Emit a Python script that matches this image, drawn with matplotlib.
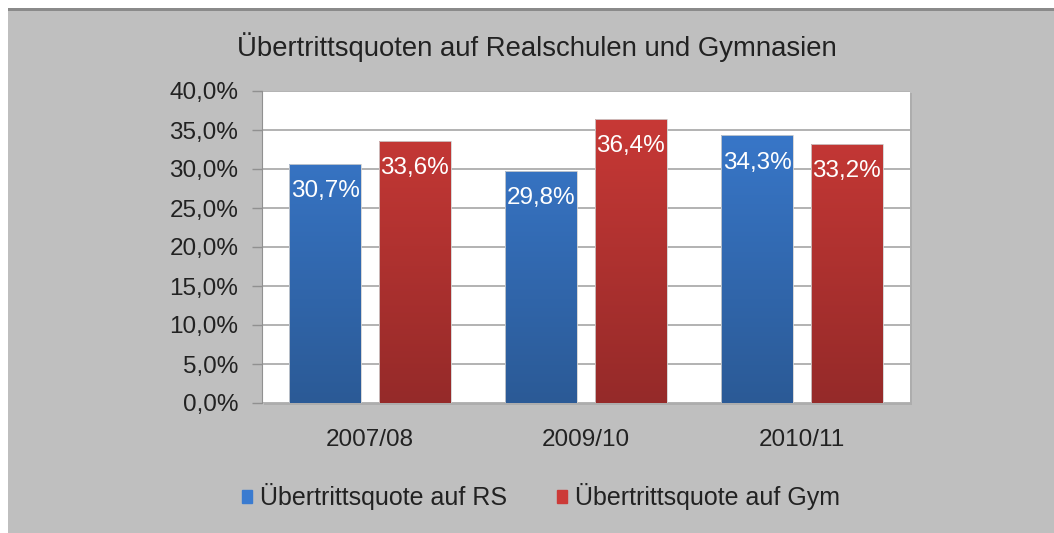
import numpy as np
import matplotlib.pyplot as plt
from matplotlib.patches import Rectangle
from matplotlib.colors import LinearSegmentedColormap

# data
years = ['2007/08', '2009/10', '2010/11']
quote_rs = [30.7, 29.8, 34.3]
quote_gym = [33.6, 36.4, 33.2]
series_names = ['Übertrittsquote auf RS', 'Übertrittsquote auf Gym']
y_ticks = [0, 5, 10, 15, 20, 25, 30, 35, 40]

plt.rcParams['font.family'] = ['Liberation Sans', 'DejaVu Sans']

fig = plt.figure(figsize=(10.54, 5.33), dpi=100, facecolor='white')

# grey chart panel with a dark top edge
fig.patches.append(Rectangle((8/1054, 0), 1, (533-8)/533, transform=fig.transFigure,
                             facecolor='#bfbfbf', edgecolor='none', zorder=-2))
fig.patches.append(Rectangle((8/1054, (533-11)/533), 1, 3/533, transform=fig.transFigure,
                             facecolor='#8a8a8a', edgecolor='none', zorder=-2))
# small shadow under the plot area
fig.patches.append(Rectangle((264/1054, 128/533), 648/1054, 312/533, transform=fig.transFigure,
                             facecolor='#adadad', edgecolor='none', zorder=-1))

ax = fig.add_axes([262/1054, 130/533, 648/1054, 312/533])
ax.set_zorder(1)
ax.set_facecolor('white')

x = np.arange(len(years))
w = 0.33
off = 0.208

blue_cmap = LinearSegmentedColormap.from_list('b', ['#2b5a96', '#3a7bd0'])
red_cmap = LinearSegmentedColormap.from_list('r', ['#952a29', '#cc3a37'])

def gradient_bars(xs, vals, cmap):
    bars = ax.bar(xs, vals, w, color='none', edgecolor='#d0d0d0', linewidth=0.6, zorder=3)
    grad = np.linspace(0, 1, 256).reshape(-1, 1)
    for b in bars:
        x0 = b.get_x()
        im = ax.imshow(grad, cmap=cmap, origin='lower', aspect='auto',
                       extent=[x0, x0 + b.get_width(), 0, 40], zorder=2.5)
        im.set_clip_path(b)
    return bars

bars_rs = gradient_bars(x - off, quote_rs, blue_cmap)
bars_gym = gradient_bars(x + off, quote_gym, red_cmap)

# value labels inside the bar tops
for bars, vals in [(bars_rs, quote_rs), (bars_gym, quote_gym)]:
    for b, v in zip(bars, vals):
        ax.text(b.get_x() + b.get_width() / 2, v - 3.5, f'{v:.1f}%'.replace('.', ','),
                ha='center', va='center', color='white', fontsize=17.5, zorder=4)

ax.set_xlim(-0.5, 2.5)
ax.set_ylim(0, 40)
ax.set_yticks(y_ticks)
ax.set_yticklabels([f'{t:.1f}%'.replace('.', ',') for t in y_ticks], fontsize=17.5, color='#222222')
ax.set_xticks(x)
ax.set_xticklabels(years, fontsize=17.5, color='#222222')
ax.tick_params(axis='x', length=0, pad=19)
ax.tick_params(axis='y', length=7, width=1, color='#909090', pad=10)
ax.yaxis.grid(True, color='#a6a6a6', linewidth=1.2, zorder=1)
ax.set_axisbelow(True)
for s in ['top', 'right', 'bottom']:
    ax.spines[s].set_visible(False)
ax.spines['left'].set_color('#909090')

fig.text(537/1054, 1 - 47/533, 'Übertrittsquoten auf Realschulen und Gymnasien',
         ha='center', va='center', fontsize=19.8, color='#222222')

leg = fig.legend([Rectangle((0, 0), 1, 1, color='#3a7bd0'), Rectangle((0, 0), 1, 1, color='#cc3a37')],
                 series_names, loc='center', bbox_to_anchor=(541/1054, 1 - 497/533), ncol=2,
                 frameon=False, fontsize=18, handlelength=0.4, handleheight=0.4,
                 handletextpad=0.3, columnspacing=2.0)
for t in leg.get_texts():
    t.set_color('#222222')

fig.savefig('out.png', dpi=100, facecolor=fig.get_facecolor())
